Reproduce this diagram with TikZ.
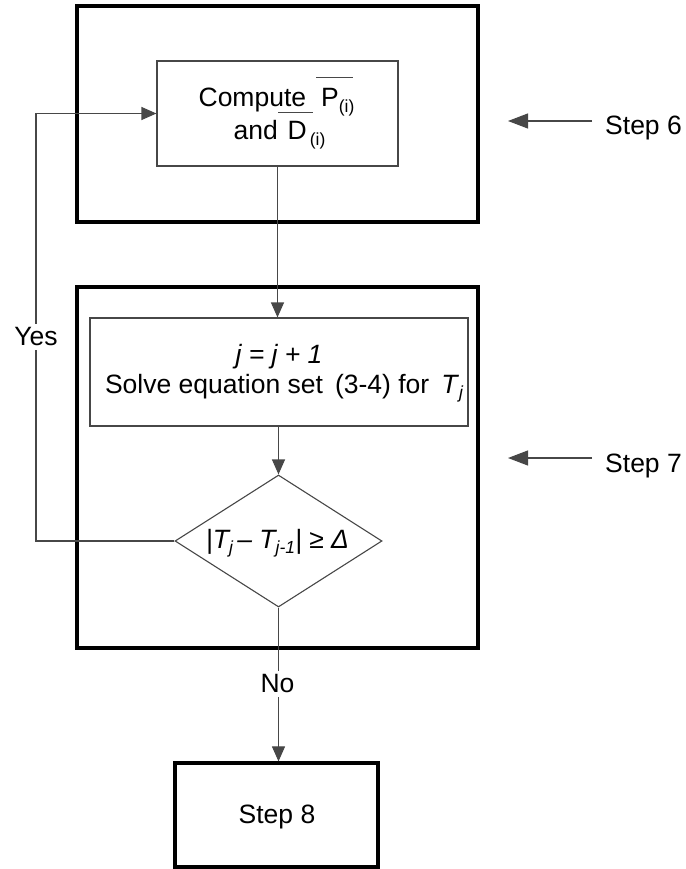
\documentclass[tikz,border=0pt]{standalone}
\usepackage{fontspec}
\setmainfont{Liberation Sans}
\usetikzlibrary{arrows.meta,shapes.geometric}

% small lowered subscript in the body font
\newcommand\lowsub[1]{\raisebox{-0.2em}{\fontsize{17.5}{17.5}\selectfont #1}}

\begin{document}
\begin{tikzpicture}[x=1pt,y=-1pt,
  thinline/.style={draw=black!72,line width=1.1pt},
  frame/.style={draw=black,line width=3.2pt,inner sep=0pt},
  box/.style={thinline,inner sep=0pt},
  flow/.style={thinline,-{Triangle[length=15pt,width=13pt]}},
  marker/.style={thinline,-{Triangle[length=20pt,width=15pt]}},
  txt/.style={font=\fontsize{26.5}{32}\selectfont,inner sep=0pt},
  lbl/.style={txt,fill=white,inner ysep=4pt,inner xsep=1pt}]
\useasboundingbox (0,0) rectangle (685,869);

% step frames
\node (frame6) [frame,minimum width=401pt,minimum height=216pt] at (277.5,114) {};
\node (frame7) [frame,minimum width=401pt,minimum height=361pt] at (277.5,467.5) {};

% step 6 box
\node (inner1) [box,minimum width=241pt,minimum height=105pt] at (277.5,113.5) {};
\node (t1) [txt,anchor=base] at (276.5,107) {Compute\hspace{15pt}P\lowsub{(i)}};
\node (t2) [txt,anchor=base] at (279.5,140) {and\hspace{10pt}D\hspace{3pt}\lowsub{(i)}};
\draw[thinline,line width=0.9pt] (316,77) -- (353,77);
\draw[thinline,line width=0.9pt] (278,112) -- (313,112);

% step 7 box and test
\node (inner2) [box,minimum width=378pt,minimum height=108pt] at (279,372) {};
\node (t3) [txt,anchor=base] at (279,363) {\itshape j = j + 1};
\node (t4) [txt,anchor=base] at (284,393) {Solve equation set\hspace{12pt}(3-4) for\hspace{12pt}\textit{T}\lowsub{\itshape j}};
\node (dia) [diamond,box,minimum width=207pt,minimum height=132pt] at (278.5,541) {};
\node (t5) [txt,anchor=base] at (277.5,548) {\itshape |T\lowsub{j}\,– T\lowsub{j-1}|\upshape\ ≥ \itshape Δ};

% step 8
\node (step8) [frame,minimum width=203pt,minimum height=104pt] at (276.5,815) {};
\node (t8) [txt,anchor=base] at (277,823) {Step 8};

% connectors
\draw[flow] (inner1.south) -- (inner1.south |- inner2.north);
\draw[flow] (inner2.south -| dia.north) -- (dia.north);
\coordinate (yesturn) at (36,541);
\draw[flow] (dia.west) -- (yesturn) |- (inner1.west);
\draw[flow] (dia.south) -- (dia.south |- step8.north);
\node (yes) [lbl] at (36,337) {Yes};
\node (no) [lbl] at (277.5,684) {No};

% step markers
\node (s6) [txt,anchor=base west] at (605,135) {Step 6};
\coordinate (s6tail) at (592,121);
\coordinate (s6tip) at (508,121);
\draw[marker] (s6tail) -- (s6tip);
\node (s7) [txt,anchor=base west] at (605,472) {Step 7};
\coordinate (s7tail) at (592,458);
\coordinate (s7tip) at (508,458);
\draw[marker] (s7tail) -- (s7tip);
\end{tikzpicture}
\end{document}
